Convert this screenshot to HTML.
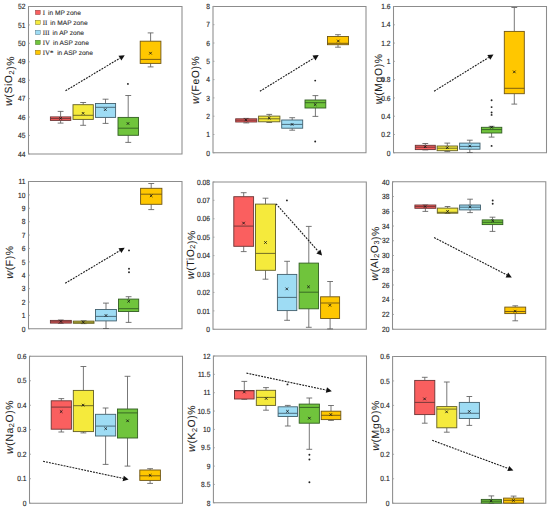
<!DOCTYPE html><html><head><meta charset="utf-8"><style>html,body{margin:0;padding:0;background:#fff;}svg{display:block;font-family:"Liberation Sans",sans-serif;text-rendering:geometricPrecision;}</style></head><body>
<svg width="550" height="510" viewBox="0 0 550 510">
<defs><marker id="ah" markerWidth="6" markerHeight="6" refX="5" refY="3" orient="auto" markerUnits="userSpaceOnUse"><path d="M0,0 L6,3 L0,6 z" fill="#111"/></marker></defs>
<rect width="550" height="510" fill="#fff"/>
<path d="M28.5,6.5H182.0V153.9H28.5Z" fill="none" stroke="#8c8c8c" stroke-width="1.05"/>
<line x1="28.5" y1="153.90" x2="30.0" y2="153.90" stroke="#9a9a9a" stroke-width="0.8"/>
<text transform="translate(25.5,156.60) scale(0.88,1)" font-size="7.6" fill="#262626" stroke="#262626" stroke-width="0.15" text-anchor="end">44</text>
<line x1="28.5" y1="135.47" x2="30.0" y2="135.47" stroke="#9a9a9a" stroke-width="0.8"/>
<text transform="translate(25.5,138.17) scale(0.88,1)" font-size="7.6" fill="#262626" stroke="#262626" stroke-width="0.15" text-anchor="end">45</text>
<line x1="28.5" y1="117.05" x2="30.0" y2="117.05" stroke="#9a9a9a" stroke-width="0.8"/>
<text transform="translate(25.5,119.75) scale(0.88,1)" font-size="7.6" fill="#262626" stroke="#262626" stroke-width="0.15" text-anchor="end">46</text>
<line x1="28.5" y1="98.62" x2="30.0" y2="98.62" stroke="#9a9a9a" stroke-width="0.8"/>
<text transform="translate(25.5,101.33) scale(0.88,1)" font-size="7.6" fill="#262626" stroke="#262626" stroke-width="0.15" text-anchor="end">47</text>
<line x1="28.5" y1="80.20" x2="30.0" y2="80.20" stroke="#9a9a9a" stroke-width="0.8"/>
<text transform="translate(25.5,82.90) scale(0.88,1)" font-size="7.6" fill="#262626" stroke="#262626" stroke-width="0.15" text-anchor="end">48</text>
<line x1="28.5" y1="61.78" x2="30.0" y2="61.78" stroke="#9a9a9a" stroke-width="0.8"/>
<text transform="translate(25.5,64.48) scale(0.88,1)" font-size="7.6" fill="#262626" stroke="#262626" stroke-width="0.15" text-anchor="end">49</text>
<line x1="28.5" y1="43.35" x2="30.0" y2="43.35" stroke="#9a9a9a" stroke-width="0.8"/>
<text transform="translate(25.5,46.05) scale(0.88,1)" font-size="7.6" fill="#262626" stroke="#262626" stroke-width="0.15" text-anchor="end">50</text>
<line x1="28.5" y1="24.93" x2="30.0" y2="24.93" stroke="#9a9a9a" stroke-width="0.8"/>
<text transform="translate(25.5,27.63) scale(0.88,1)" font-size="7.6" fill="#262626" stroke="#262626" stroke-width="0.15" text-anchor="end">51</text>
<line x1="28.5" y1="6.50" x2="30.0" y2="6.50" stroke="#9a9a9a" stroke-width="0.8"/>
<text transform="translate(25.5,9.20) scale(0.88,1)" font-size="7.6" fill="#262626" stroke="#262626" stroke-width="0.15" text-anchor="end">52</text>
<text transform="translate(12.1,81.0) rotate(-90)" text-anchor="middle" font-size="10.4" letter-spacing="0.6" fill="#1e1e1e" stroke="#1e1e1e" stroke-width="0.06"><tspan font-style="italic" font-size="10.8">w</tspan>(SiO<tspan font-size="7.2" dy="1.6">2</tspan><tspan dy="-1.6"></tspan>)%</text>
<line x1="60.6" y1="111.4" x2="60.6" y2="116.9" stroke="#5f5f5f" stroke-width="0.85"/>
<line x1="60.6" y1="120.4" x2="60.6" y2="123.1" stroke="#5f5f5f" stroke-width="0.85"/>
<line x1="57.7" y1="111.4" x2="63.5" y2="111.4" stroke="#5f5f5f" stroke-width="0.85"/>
<line x1="57.7" y1="123.1" x2="63.5" y2="123.1" stroke="#5f5f5f" stroke-width="0.85"/>
<rect x="50.4" y="116.9" width="20.4" height="3.5" fill="#FA5F5F" stroke="#6a3434" stroke-width="0.9"/>
<line x1="50.4" y1="118.6" x2="70.8" y2="118.6" stroke="#6a3434" stroke-width="0.9"/>
<path d="M59.3,117.1L61.9,119.7M59.3,119.7L61.9,117.1" stroke="#111" stroke-width="0.8"/>
<line x1="83.2" y1="102.5" x2="83.2" y2="104.7" stroke="#5f5f5f" stroke-width="0.85"/>
<line x1="83.2" y1="119.4" x2="83.2" y2="125.3" stroke="#5f5f5f" stroke-width="0.85"/>
<line x1="80.2" y1="102.5" x2="86.1" y2="102.5" stroke="#5f5f5f" stroke-width="0.85"/>
<line x1="80.2" y1="125.3" x2="86.1" y2="125.3" stroke="#5f5f5f" stroke-width="0.85"/>
<rect x="73.0" y="104.7" width="20.3" height="14.7" fill="#F5EA3C" stroke="#625d24" stroke-width="0.9"/>
<line x1="73.0" y1="115.3" x2="93.3" y2="115.3" stroke="#625d24" stroke-width="0.9"/>
<path d="M81.8,112.0L84.4,114.6M81.8,114.6L84.4,112.0" stroke="#111" stroke-width="0.8"/>
<line x1="105.5" y1="99.2" x2="105.5" y2="103.5" stroke="#5f5f5f" stroke-width="0.85"/>
<line x1="105.5" y1="117.4" x2="105.5" y2="123.4" stroke="#5f5f5f" stroke-width="0.85"/>
<line x1="102.6" y1="99.2" x2="108.5" y2="99.2" stroke="#5f5f5f" stroke-width="0.85"/>
<line x1="102.6" y1="123.4" x2="108.5" y2="123.4" stroke="#5f5f5f" stroke-width="0.85"/>
<rect x="95.5" y="103.5" width="20.1" height="13.9" fill="#9EDCF4" stroke="#42606e" stroke-width="0.9"/>
<line x1="95.5" y1="107.3" x2="115.6" y2="107.3" stroke="#42606e" stroke-width="0.9"/>
<path d="M104.0,108.3L106.6,110.9M104.0,110.9L106.6,108.3" stroke="#111" stroke-width="0.8"/>
<line x1="128.2" y1="95.5" x2="128.2" y2="117.4" stroke="#5f5f5f" stroke-width="0.85"/>
<line x1="128.2" y1="135.3" x2="128.2" y2="142.4" stroke="#5f5f5f" stroke-width="0.85"/>
<line x1="125.3" y1="95.5" x2="131.2" y2="95.5" stroke="#5f5f5f" stroke-width="0.85"/>
<line x1="125.3" y1="142.4" x2="131.2" y2="142.4" stroke="#5f5f5f" stroke-width="0.85"/>
<rect x="118.0" y="117.4" width="20.5" height="17.9" fill="#70C43C" stroke="#325e22" stroke-width="0.9"/>
<line x1="118.0" y1="128.2" x2="138.5" y2="128.2" stroke="#325e22" stroke-width="0.9"/>
<path d="M126.7,122.2L129.3,124.8M126.7,124.8L129.3,122.2" stroke="#111" stroke-width="0.8"/>
<line x1="150.6" y1="32.9" x2="150.6" y2="41.2" stroke="#5f5f5f" stroke-width="0.85"/>
<line x1="150.6" y1="63.4" x2="150.6" y2="66.9" stroke="#5f5f5f" stroke-width="0.85"/>
<line x1="147.7" y1="32.9" x2="153.5" y2="32.9" stroke="#5f5f5f" stroke-width="0.85"/>
<line x1="147.7" y1="66.9" x2="153.5" y2="66.9" stroke="#5f5f5f" stroke-width="0.85"/>
<rect x="140.2" y="41.2" width="20.7" height="22.2" fill="#FFC700" stroke="#6e5514" stroke-width="0.9"/>
<line x1="140.2" y1="59.4" x2="160.9" y2="59.4" stroke="#6e5514" stroke-width="0.9"/>
<path d="M149.2,51.9L151.8,54.5M149.2,54.5L151.8,51.9" stroke="#111" stroke-width="0.8"/>
<circle cx="127.9" cy="83.9" r="0.95" fill="#222"/>
<line x1="65.5" y1="90.8" x2="120.0" y2="58.1" stroke="#1a1a1a" stroke-width="1.1" stroke-dasharray="1.9,1.1"/>
<path d="M124.7,55.3L121.4,60.5L118.5,55.7z" fill="#111"/>
<rect x="35.4" y="10.2" width="4.8" height="4.4" fill="#FA5F5F" stroke="#6a3434" stroke-width="0.4"/>
<text x="42.7" y="14.7" font-size="6.6" fill="#333" stroke="#333" stroke-width="0.12"><tspan font-family="Liberation Serif" font-size="6.9">I</tspan><tspan dx="1.2"> in MP zone</tspan></text>
<rect x="35.4" y="20.2" width="4.8" height="4.4" fill="#F5EA3C" stroke="#625d24" stroke-width="0.4"/>
<text x="42.7" y="24.7" font-size="6.6" fill="#333" stroke="#333" stroke-width="0.12"><tspan font-family="Liberation Serif" font-size="6.9">II</tspan><tspan dx="1.2"> in MAP zone</tspan></text>
<rect x="35.4" y="30.2" width="4.8" height="4.4" fill="#9EDCF4" stroke="#42606e" stroke-width="0.4"/>
<text x="42.7" y="34.7" font-size="6.6" fill="#333" stroke="#333" stroke-width="0.12"><tspan font-family="Liberation Serif" font-size="6.9">III</tspan><tspan dx="1.2"> in AP zone</tspan></text>
<rect x="35.4" y="40.2" width="4.8" height="4.4" fill="#70C43C" stroke="#325e22" stroke-width="0.4"/>
<text x="42.7" y="44.7" font-size="6.6" fill="#333" stroke="#333" stroke-width="0.12"><tspan font-family="Liberation Serif" font-size="6.9">IV</tspan><tspan dx="1.2"> in ASP zone</tspan></text>
<rect x="35.4" y="50.2" width="4.8" height="4.4" fill="#FFC700" stroke="#6e5514" stroke-width="0.4"/>
<text x="42.7" y="54.7" font-size="6.6" fill="#333" stroke="#333" stroke-width="0.12"><tspan font-family="Liberation Serif" font-size="6.9">IV*</tspan><tspan dx="1.9"> in ASP zone</tspan></text>
<path d="M213.0,6.4H366.0V152.8H213.0Z" fill="none" stroke="#8c8c8c" stroke-width="1.05"/>
<line x1="213.0" y1="152.80" x2="214.5" y2="152.80" stroke="#9a9a9a" stroke-width="0.8"/>
<text transform="translate(210.0,155.50) scale(0.88,1)" font-size="7.6" fill="#262626" stroke="#262626" stroke-width="0.15" text-anchor="end">0</text>
<line x1="213.0" y1="134.50" x2="214.5" y2="134.50" stroke="#9a9a9a" stroke-width="0.8"/>
<text transform="translate(210.0,137.20) scale(0.88,1)" font-size="7.6" fill="#262626" stroke="#262626" stroke-width="0.15" text-anchor="end">1</text>
<line x1="213.0" y1="116.20" x2="214.5" y2="116.20" stroke="#9a9a9a" stroke-width="0.8"/>
<text transform="translate(210.0,118.90) scale(0.88,1)" font-size="7.6" fill="#262626" stroke="#262626" stroke-width="0.15" text-anchor="end">2</text>
<line x1="213.0" y1="97.90" x2="214.5" y2="97.90" stroke="#9a9a9a" stroke-width="0.8"/>
<text transform="translate(210.0,100.60) scale(0.88,1)" font-size="7.6" fill="#262626" stroke="#262626" stroke-width="0.15" text-anchor="end">3</text>
<line x1="213.0" y1="79.60" x2="214.5" y2="79.60" stroke="#9a9a9a" stroke-width="0.8"/>
<text transform="translate(210.0,82.30) scale(0.88,1)" font-size="7.6" fill="#262626" stroke="#262626" stroke-width="0.15" text-anchor="end">4</text>
<line x1="213.0" y1="61.30" x2="214.5" y2="61.30" stroke="#9a9a9a" stroke-width="0.8"/>
<text transform="translate(210.0,64.00) scale(0.88,1)" font-size="7.6" fill="#262626" stroke="#262626" stroke-width="0.15" text-anchor="end">5</text>
<line x1="213.0" y1="43.00" x2="214.5" y2="43.00" stroke="#9a9a9a" stroke-width="0.8"/>
<text transform="translate(210.0,45.70) scale(0.88,1)" font-size="7.6" fill="#262626" stroke="#262626" stroke-width="0.15" text-anchor="end">6</text>
<line x1="213.0" y1="24.70" x2="214.5" y2="24.70" stroke="#9a9a9a" stroke-width="0.8"/>
<text transform="translate(210.0,27.40) scale(0.88,1)" font-size="7.6" fill="#262626" stroke="#262626" stroke-width="0.15" text-anchor="end">7</text>
<line x1="213.0" y1="6.40" x2="214.5" y2="6.40" stroke="#9a9a9a" stroke-width="0.8"/>
<text transform="translate(210.0,9.10) scale(0.88,1)" font-size="7.6" fill="#262626" stroke="#262626" stroke-width="0.15" text-anchor="end">8</text>
<text transform="translate(199.1,79.8) rotate(-90)" text-anchor="middle" font-size="10.4" letter-spacing="0.6" fill="#1e1e1e" stroke="#1e1e1e" stroke-width="0.06"><tspan font-style="italic" font-size="10.8">w</tspan>(FeO)%</text>
<line x1="246.2" y1="118.4" x2="246.2" y2="118.8" stroke="#5f5f5f" stroke-width="0.85"/>
<line x1="246.2" y1="122.0" x2="246.2" y2="122.9" stroke="#5f5f5f" stroke-width="0.85"/>
<line x1="243.3" y1="118.4" x2="249.2" y2="118.4" stroke="#5f5f5f" stroke-width="0.85"/>
<line x1="243.3" y1="122.9" x2="249.2" y2="122.9" stroke="#5f5f5f" stroke-width="0.85"/>
<rect x="235.7" y="118.8" width="21.1" height="3.2" fill="#FA5F5F" stroke="#6a3434" stroke-width="0.9"/>
<line x1="235.7" y1="120.2" x2="256.8" y2="120.2" stroke="#6a3434" stroke-width="0.9"/>
<path d="M244.6,118.6L247.2,121.2M244.6,121.2L247.2,118.6" stroke="#111" stroke-width="0.8"/>
<line x1="269.2" y1="114.4" x2="269.2" y2="116.1" stroke="#5f5f5f" stroke-width="0.85"/>
<line x1="269.2" y1="121.8" x2="269.2" y2="122.5" stroke="#5f5f5f" stroke-width="0.85"/>
<line x1="266.4" y1="114.4" x2="272.1" y2="114.4" stroke="#5f5f5f" stroke-width="0.85"/>
<line x1="266.4" y1="122.5" x2="272.1" y2="122.5" stroke="#5f5f5f" stroke-width="0.85"/>
<rect x="258.6" y="116.1" width="21.3" height="5.7" fill="#F5EA3C" stroke="#625d24" stroke-width="0.9"/>
<line x1="258.6" y1="118.8" x2="279.9" y2="118.8" stroke="#625d24" stroke-width="0.9"/>
<path d="M267.9,116.8L270.5,119.4M267.9,119.4L270.5,116.8" stroke="#111" stroke-width="0.8"/>
<line x1="292.2" y1="117.7" x2="292.2" y2="120.0" stroke="#5f5f5f" stroke-width="0.85"/>
<line x1="292.2" y1="128.2" x2="292.2" y2="130.2" stroke="#5f5f5f" stroke-width="0.85"/>
<line x1="289.3" y1="117.7" x2="295.1" y2="117.7" stroke="#5f5f5f" stroke-width="0.85"/>
<line x1="289.3" y1="130.2" x2="295.1" y2="130.2" stroke="#5f5f5f" stroke-width="0.85"/>
<rect x="281.7" y="120.0" width="21.0" height="8.2" fill="#9EDCF4" stroke="#42606e" stroke-width="0.9"/>
<line x1="281.7" y1="124.4" x2="302.7" y2="124.4" stroke="#42606e" stroke-width="0.9"/>
<path d="M290.8,123.1L293.4,125.7M290.8,125.7L293.4,123.1" stroke="#111" stroke-width="0.8"/>
<line x1="315.4" y1="95.6" x2="315.4" y2="100.0" stroke="#5f5f5f" stroke-width="0.85"/>
<line x1="315.4" y1="108.0" x2="315.4" y2="116.4" stroke="#5f5f5f" stroke-width="0.85"/>
<line x1="312.5" y1="95.6" x2="318.3" y2="95.6" stroke="#5f5f5f" stroke-width="0.85"/>
<line x1="312.5" y1="116.4" x2="318.3" y2="116.4" stroke="#5f5f5f" stroke-width="0.85"/>
<rect x="305.0" y="100.0" width="20.8" height="8.0" fill="#70C43C" stroke="#325e22" stroke-width="0.9"/>
<line x1="305.0" y1="102.7" x2="325.8" y2="102.7" stroke="#325e22" stroke-width="0.9"/>
<path d="M313.9,103.3L316.5,105.9M313.9,105.9L316.5,103.3" stroke="#111" stroke-width="0.8"/>
<line x1="338.0" y1="34.7" x2="338.0" y2="36.5" stroke="#5f5f5f" stroke-width="0.85"/>
<line x1="338.0" y1="44.7" x2="338.0" y2="47.2" stroke="#5f5f5f" stroke-width="0.85"/>
<line x1="335.1" y1="34.7" x2="340.9" y2="34.7" stroke="#5f5f5f" stroke-width="0.85"/>
<line x1="335.1" y1="47.2" x2="340.9" y2="47.2" stroke="#5f5f5f" stroke-width="0.85"/>
<rect x="327.5" y="36.5" width="21.0" height="8.2" fill="#FFC700" stroke="#6e5514" stroke-width="0.9"/>
<line x1="327.5" y1="43.3" x2="348.5" y2="43.3" stroke="#6e5514" stroke-width="0.9"/>
<path d="M337.0,39.7L339.6,42.3M337.0,42.3L339.6,39.7" stroke="#111" stroke-width="0.8"/>
<circle cx="315.2" cy="80.6" r="0.95" fill="#222"/>
<circle cx="315.2" cy="141.5" r="0.95" fill="#222"/>
<line x1="259.9" y1="91.3" x2="314.0" y2="58.0" stroke="#1a1a1a" stroke-width="1.1" stroke-dasharray="1.9,1.1"/>
<path d="M318.7,55.1L315.5,60.4L312.5,55.6z" fill="#111"/>
<path d="M393.5,6.5H546.5V152.8H393.5Z" fill="none" stroke="#8c8c8c" stroke-width="1.05"/>
<line x1="393.5" y1="152.80" x2="395.0" y2="152.80" stroke="#9a9a9a" stroke-width="0.8"/>
<text transform="translate(390.5,155.50) scale(0.88,1)" font-size="7.6" fill="#262626" stroke="#262626" stroke-width="0.15" text-anchor="end">0</text>
<line x1="393.5" y1="134.51" x2="395.0" y2="134.51" stroke="#9a9a9a" stroke-width="0.8"/>
<text transform="translate(390.5,137.21) scale(0.88,1)" font-size="7.6" fill="#262626" stroke="#262626" stroke-width="0.15" text-anchor="end">0.2</text>
<line x1="393.5" y1="116.23" x2="395.0" y2="116.23" stroke="#9a9a9a" stroke-width="0.8"/>
<text transform="translate(390.5,118.93) scale(0.88,1)" font-size="7.6" fill="#262626" stroke="#262626" stroke-width="0.15" text-anchor="end">0.4</text>
<line x1="393.5" y1="97.94" x2="395.0" y2="97.94" stroke="#9a9a9a" stroke-width="0.8"/>
<text transform="translate(390.5,100.64) scale(0.88,1)" font-size="7.6" fill="#262626" stroke="#262626" stroke-width="0.15" text-anchor="end">0.6</text>
<line x1="393.5" y1="79.65" x2="395.0" y2="79.65" stroke="#9a9a9a" stroke-width="0.8"/>
<text transform="translate(390.5,82.35) scale(0.88,1)" font-size="7.6" fill="#262626" stroke="#262626" stroke-width="0.15" text-anchor="end">0.8</text>
<line x1="393.5" y1="61.36" x2="395.0" y2="61.36" stroke="#9a9a9a" stroke-width="0.8"/>
<text transform="translate(390.5,64.06) scale(0.88,1)" font-size="7.6" fill="#262626" stroke="#262626" stroke-width="0.15" text-anchor="end">1</text>
<line x1="393.5" y1="43.07" x2="395.0" y2="43.07" stroke="#9a9a9a" stroke-width="0.8"/>
<text transform="translate(390.5,45.77) scale(0.88,1)" font-size="7.6" fill="#262626" stroke="#262626" stroke-width="0.15" text-anchor="end">1.2</text>
<line x1="393.5" y1="24.79" x2="395.0" y2="24.79" stroke="#9a9a9a" stroke-width="0.8"/>
<text transform="translate(390.5,27.49) scale(0.88,1)" font-size="7.6" fill="#262626" stroke="#262626" stroke-width="0.15" text-anchor="end">1.4</text>
<line x1="393.5" y1="6.50" x2="395.0" y2="6.50" stroke="#9a9a9a" stroke-width="0.8"/>
<text transform="translate(390.5,9.20) scale(0.88,1)" font-size="7.6" fill="#262626" stroke="#262626" stroke-width="0.15" text-anchor="end">1.6</text>
<text transform="translate(382.3,78.8) rotate(-90)" text-anchor="middle" font-size="10.4" letter-spacing="0.6" fill="#1e1e1e" stroke="#1e1e1e" stroke-width="0.06"><tspan font-style="italic" font-size="10.8">w</tspan>(MgO)%</text>
<line x1="425.3" y1="143.5" x2="425.3" y2="145.3" stroke="#5f5f5f" stroke-width="0.85"/>
<line x1="425.3" y1="149.6" x2="425.3" y2="149.9" stroke="#5f5f5f" stroke-width="0.85"/>
<line x1="422.4" y1="143.5" x2="428.2" y2="143.5" stroke="#5f5f5f" stroke-width="0.85"/>
<line x1="422.4" y1="149.9" x2="428.2" y2="149.9" stroke="#5f5f5f" stroke-width="0.85"/>
<rect x="415.3" y="145.3" width="20.0" height="4.3" fill="#FA5F5F" stroke="#6a3434" stroke-width="0.9"/>
<line x1="415.3" y1="147.2" x2="435.3" y2="147.2" stroke="#6a3434" stroke-width="0.9"/>
<path d="M423.9,145.4L426.5,148.0M423.9,148.0L426.5,145.4" stroke="#111" stroke-width="0.8"/>
<line x1="447.3" y1="143.1" x2="447.3" y2="146.0" stroke="#5f5f5f" stroke-width="0.85"/>
<line x1="447.3" y1="150.7" x2="447.3" y2="151.4" stroke="#5f5f5f" stroke-width="0.85"/>
<line x1="444.4" y1="143.1" x2="450.2" y2="143.1" stroke="#5f5f5f" stroke-width="0.85"/>
<line x1="444.4" y1="151.4" x2="450.2" y2="151.4" stroke="#5f5f5f" stroke-width="0.85"/>
<rect x="437.1" y="146.0" width="20.4" height="4.7" fill="#F5EA3C" stroke="#625d24" stroke-width="0.9"/>
<line x1="437.1" y1="148.2" x2="457.5" y2="148.2" stroke="#625d24" stroke-width="0.9"/>
<path d="M446.0,146.4L448.6,149.0M446.0,149.0L448.6,146.4" stroke="#111" stroke-width="0.8"/>
<line x1="469.8" y1="140.2" x2="469.8" y2="143.1" stroke="#5f5f5f" stroke-width="0.85"/>
<line x1="469.8" y1="149.2" x2="469.8" y2="152.5" stroke="#5f5f5f" stroke-width="0.85"/>
<line x1="466.9" y1="140.2" x2="472.7" y2="140.2" stroke="#5f5f5f" stroke-width="0.85"/>
<line x1="466.9" y1="152.5" x2="472.7" y2="152.5" stroke="#5f5f5f" stroke-width="0.85"/>
<rect x="459.6" y="143.1" width="20.4" height="6.1" fill="#9EDCF4" stroke="#42606e" stroke-width="0.9"/>
<line x1="459.6" y1="146.4" x2="480.0" y2="146.4" stroke="#42606e" stroke-width="0.9"/>
<path d="M468.5,144.7L471.1,147.3M468.5,147.3L471.1,144.7" stroke="#111" stroke-width="0.8"/>
<line x1="491.6" y1="126.3" x2="491.6" y2="127.3" stroke="#5f5f5f" stroke-width="0.85"/>
<line x1="491.6" y1="133.0" x2="491.6" y2="137.1" stroke="#5f5f5f" stroke-width="0.85"/>
<line x1="488.7" y1="126.3" x2="494.5" y2="126.3" stroke="#5f5f5f" stroke-width="0.85"/>
<line x1="488.7" y1="137.1" x2="494.5" y2="137.1" stroke="#5f5f5f" stroke-width="0.85"/>
<rect x="481.4" y="127.3" width="20.4" height="5.7" fill="#70C43C" stroke="#325e22" stroke-width="0.9"/>
<line x1="481.4" y1="129.6" x2="501.8" y2="129.6" stroke="#325e22" stroke-width="0.9"/>
<path d="M490.3,126.0L492.9,128.6M490.3,128.6L492.9,126.0" stroke="#111" stroke-width="0.8"/>
<line x1="514.3" y1="7.5" x2="514.3" y2="31.4" stroke="#5f5f5f" stroke-width="0.85"/>
<line x1="514.3" y1="93.7" x2="514.3" y2="104.1" stroke="#5f5f5f" stroke-width="0.85"/>
<line x1="511.4" y1="7.5" x2="517.2" y2="7.5" stroke="#5f5f5f" stroke-width="0.85"/>
<line x1="511.4" y1="104.1" x2="517.2" y2="104.1" stroke="#5f5f5f" stroke-width="0.85"/>
<rect x="504.3" y="31.4" width="20.0" height="62.3" fill="#FFC700" stroke="#6e5514" stroke-width="0.9"/>
<line x1="504.3" y1="88.3" x2="524.3" y2="88.3" stroke="#6e5514" stroke-width="0.9"/>
<path d="M513.0,70.6L515.6,73.2M513.0,73.2L515.6,70.6" stroke="#111" stroke-width="0.8"/>
<circle cx="491.6" cy="100.2" r="0.95" fill="#222"/>
<circle cx="491.6" cy="107.1" r="0.95" fill="#222"/>
<circle cx="491.6" cy="112.5" r="0.95" fill="#222"/>
<circle cx="491.6" cy="114.9" r="0.95" fill="#222"/>
<circle cx="491.6" cy="145.9" r="0.95" fill="#222"/>
<line x1="434.1" y1="91.2" x2="488.8" y2="57.4" stroke="#1a1a1a" stroke-width="1.1" stroke-dasharray="1.9,1.1"/>
<path d="M493.5,54.5L490.3,59.8L487.3,55.0z" fill="#111"/>
<path d="M28.5,181.5H182.0V328.8H28.5Z" fill="none" stroke="#8c8c8c" stroke-width="1.05"/>
<line x1="28.5" y1="328.80" x2="30.0" y2="328.80" stroke="#9a9a9a" stroke-width="0.8"/>
<text transform="translate(25.5,331.50) scale(0.88,1)" font-size="7.6" fill="#262626" stroke="#262626" stroke-width="0.15" text-anchor="end">0</text>
<line x1="28.5" y1="315.41" x2="30.0" y2="315.41" stroke="#9a9a9a" stroke-width="0.8"/>
<text transform="translate(25.5,318.11) scale(0.88,1)" font-size="7.6" fill="#262626" stroke="#262626" stroke-width="0.15" text-anchor="end">1</text>
<line x1="28.5" y1="302.02" x2="30.0" y2="302.02" stroke="#9a9a9a" stroke-width="0.8"/>
<text transform="translate(25.5,304.72) scale(0.88,1)" font-size="7.6" fill="#262626" stroke="#262626" stroke-width="0.15" text-anchor="end">2</text>
<line x1="28.5" y1="288.63" x2="30.0" y2="288.63" stroke="#9a9a9a" stroke-width="0.8"/>
<text transform="translate(25.5,291.33) scale(0.88,1)" font-size="7.6" fill="#262626" stroke="#262626" stroke-width="0.15" text-anchor="end">3</text>
<line x1="28.5" y1="275.24" x2="30.0" y2="275.24" stroke="#9a9a9a" stroke-width="0.8"/>
<text transform="translate(25.5,277.94) scale(0.88,1)" font-size="7.6" fill="#262626" stroke="#262626" stroke-width="0.15" text-anchor="end">4</text>
<line x1="28.5" y1="261.85" x2="30.0" y2="261.85" stroke="#9a9a9a" stroke-width="0.8"/>
<text transform="translate(25.5,264.55) scale(0.88,1)" font-size="7.6" fill="#262626" stroke="#262626" stroke-width="0.15" text-anchor="end">5</text>
<line x1="28.5" y1="248.45" x2="30.0" y2="248.45" stroke="#9a9a9a" stroke-width="0.8"/>
<text transform="translate(25.5,251.15) scale(0.88,1)" font-size="7.6" fill="#262626" stroke="#262626" stroke-width="0.15" text-anchor="end">6</text>
<line x1="28.5" y1="235.06" x2="30.0" y2="235.06" stroke="#9a9a9a" stroke-width="0.8"/>
<text transform="translate(25.5,237.76) scale(0.88,1)" font-size="7.6" fill="#262626" stroke="#262626" stroke-width="0.15" text-anchor="end">7</text>
<line x1="28.5" y1="221.67" x2="30.0" y2="221.67" stroke="#9a9a9a" stroke-width="0.8"/>
<text transform="translate(25.5,224.37) scale(0.88,1)" font-size="7.6" fill="#262626" stroke="#262626" stroke-width="0.15" text-anchor="end">8</text>
<line x1="28.5" y1="208.28" x2="30.0" y2="208.28" stroke="#9a9a9a" stroke-width="0.8"/>
<text transform="translate(25.5,210.98) scale(0.88,1)" font-size="7.6" fill="#262626" stroke="#262626" stroke-width="0.15" text-anchor="end">9</text>
<line x1="28.5" y1="194.89" x2="30.0" y2="194.89" stroke="#9a9a9a" stroke-width="0.8"/>
<text transform="translate(25.5,197.59) scale(0.88,1)" font-size="7.6" fill="#262626" stroke="#262626" stroke-width="0.15" text-anchor="end">10</text>
<line x1="28.5" y1="181.50" x2="30.0" y2="181.50" stroke="#9a9a9a" stroke-width="0.8"/>
<text transform="translate(25.5,184.20) scale(0.88,1)" font-size="7.6" fill="#262626" stroke="#262626" stroke-width="0.15" text-anchor="end">11</text>
<text transform="translate(12.9,262.0) rotate(-90)" text-anchor="middle" font-size="10.4" letter-spacing="0.6" fill="#1e1e1e" stroke="#1e1e1e" stroke-width="0.06"><tspan font-style="italic" font-size="10.8">w</tspan>(F)%</text>
<line x1="60.8" y1="320.0" x2="60.8" y2="320.4" stroke="#5f5f5f" stroke-width="0.85"/>
<line x1="60.8" y1="323.1" x2="60.8" y2="323.4" stroke="#5f5f5f" stroke-width="0.85"/>
<line x1="57.9" y1="320.0" x2="63.7" y2="320.0" stroke="#5f5f5f" stroke-width="0.85"/>
<line x1="57.9" y1="323.4" x2="63.7" y2="323.4" stroke="#5f5f5f" stroke-width="0.85"/>
<rect x="50.4" y="320.4" width="20.9" height="2.7" fill="#FA5F5F" stroke="#6a3434" stroke-width="0.9"/>
<line x1="50.4" y1="321.8" x2="71.3" y2="321.8" stroke="#6a3434" stroke-width="0.9"/>
<path d="M59.6,320.2L62.2,322.8M59.6,322.8L62.2,320.2" stroke="#111" stroke-width="0.8"/>
<line x1="83.7" y1="320.8" x2="83.7" y2="321.1" stroke="#5f5f5f" stroke-width="0.85"/>
<line x1="83.7" y1="323.3" x2="83.7" y2="323.6" stroke="#5f5f5f" stroke-width="0.85"/>
<line x1="80.8" y1="320.8" x2="86.6" y2="320.8" stroke="#5f5f5f" stroke-width="0.85"/>
<line x1="80.8" y1="323.6" x2="86.6" y2="323.6" stroke="#5f5f5f" stroke-width="0.85"/>
<rect x="73.3" y="321.1" width="20.7" height="2.2" fill="#F5EA3C" stroke="#625d24" stroke-width="0.9"/>
<line x1="73.3" y1="322.2" x2="94.0" y2="322.2" stroke="#625d24" stroke-width="0.9"/>
<path d="M82.0,320.9L84.6,323.5M82.0,323.5L84.6,320.9" stroke="#111" stroke-width="0.8"/>
<line x1="106.0" y1="303.1" x2="106.0" y2="309.5" stroke="#5f5f5f" stroke-width="0.85"/>
<line x1="106.0" y1="320.9" x2="106.0" y2="328.5" stroke="#5f5f5f" stroke-width="0.85"/>
<line x1="103.0" y1="303.1" x2="108.9" y2="303.1" stroke="#5f5f5f" stroke-width="0.85"/>
<line x1="103.0" y1="328.5" x2="108.9" y2="328.5" stroke="#5f5f5f" stroke-width="0.85"/>
<rect x="95.5" y="309.5" width="20.9" height="11.4" fill="#9EDCF4" stroke="#42606e" stroke-width="0.9"/>
<line x1="95.5" y1="316.4" x2="116.4" y2="316.4" stroke="#42606e" stroke-width="0.9"/>
<path d="M104.7,314.2L107.3,316.8M104.7,316.8L107.3,314.2" stroke="#111" stroke-width="0.8"/>
<line x1="128.6" y1="296.7" x2="128.6" y2="299.1" stroke="#5f5f5f" stroke-width="0.85"/>
<line x1="128.6" y1="311.5" x2="128.6" y2="322.4" stroke="#5f5f5f" stroke-width="0.85"/>
<line x1="125.7" y1="296.7" x2="131.5" y2="296.7" stroke="#5f5f5f" stroke-width="0.85"/>
<line x1="125.7" y1="322.4" x2="131.5" y2="322.4" stroke="#5f5f5f" stroke-width="0.85"/>
<rect x="118.5" y="299.1" width="20.2" height="12.4" fill="#70C43C" stroke="#325e22" stroke-width="0.9"/>
<line x1="118.5" y1="308.7" x2="138.7" y2="308.7" stroke="#325e22" stroke-width="0.9"/>
<path d="M127.4,300.0L130.0,302.6M127.4,302.6L130.0,300.0" stroke="#111" stroke-width="0.8"/>
<line x1="151.2" y1="183.5" x2="151.2" y2="188.3" stroke="#5f5f5f" stroke-width="0.85"/>
<line x1="151.2" y1="204.3" x2="151.2" y2="209.6" stroke="#5f5f5f" stroke-width="0.85"/>
<line x1="148.3" y1="183.5" x2="154.2" y2="183.5" stroke="#5f5f5f" stroke-width="0.85"/>
<line x1="148.3" y1="209.6" x2="154.2" y2="209.6" stroke="#5f5f5f" stroke-width="0.85"/>
<rect x="140.6" y="188.3" width="21.3" height="16.0" fill="#FFC700" stroke="#6e5514" stroke-width="0.9"/>
<line x1="140.6" y1="194.2" x2="161.9" y2="194.2" stroke="#6e5514" stroke-width="0.9"/>
<path d="M149.9,194.5L152.5,197.1M149.9,197.1L152.5,194.5" stroke="#111" stroke-width="0.8"/>
<circle cx="129" cy="250.4" r="0.95" fill="#222"/>
<circle cx="129" cy="268.7" r="0.95" fill="#222"/>
<circle cx="129" cy="272.2" r="0.95" fill="#222"/>
<line x1="65.2" y1="283.3" x2="120.0" y2="250.6" stroke="#1a1a1a" stroke-width="1.1" stroke-dasharray="1.9,1.1"/>
<path d="M124.7,247.8L121.4,253.0L118.5,248.2z" fill="#111"/>
<path d="M213.0,181.9H366.3V329.3H213.0Z" fill="none" stroke="#8c8c8c" stroke-width="1.05"/>
<line x1="213.0" y1="329.30" x2="214.5" y2="329.30" stroke="#9a9a9a" stroke-width="0.8"/>
<text transform="translate(210.0,332.00) scale(0.88,1)" font-size="7.6" fill="#262626" stroke="#262626" stroke-width="0.15" text-anchor="end">0</text>
<line x1="213.0" y1="310.88" x2="214.5" y2="310.88" stroke="#9a9a9a" stroke-width="0.8"/>
<text transform="translate(210.0,313.57) scale(0.88,1)" font-size="7.6" fill="#262626" stroke="#262626" stroke-width="0.15" text-anchor="end">0.01</text>
<line x1="213.0" y1="292.45" x2="214.5" y2="292.45" stroke="#9a9a9a" stroke-width="0.8"/>
<text transform="translate(210.0,295.15) scale(0.88,1)" font-size="7.6" fill="#262626" stroke="#262626" stroke-width="0.15" text-anchor="end">0.02</text>
<line x1="213.0" y1="274.02" x2="214.5" y2="274.02" stroke="#9a9a9a" stroke-width="0.8"/>
<text transform="translate(210.0,276.72) scale(0.88,1)" font-size="7.6" fill="#262626" stroke="#262626" stroke-width="0.15" text-anchor="end">0.03</text>
<line x1="213.0" y1="255.60" x2="214.5" y2="255.60" stroke="#9a9a9a" stroke-width="0.8"/>
<text transform="translate(210.0,258.30) scale(0.88,1)" font-size="7.6" fill="#262626" stroke="#262626" stroke-width="0.15" text-anchor="end">0.04</text>
<line x1="213.0" y1="237.18" x2="214.5" y2="237.18" stroke="#9a9a9a" stroke-width="0.8"/>
<text transform="translate(210.0,239.88) scale(0.88,1)" font-size="7.6" fill="#262626" stroke="#262626" stroke-width="0.15" text-anchor="end">0.05</text>
<line x1="213.0" y1="218.75" x2="214.5" y2="218.75" stroke="#9a9a9a" stroke-width="0.8"/>
<text transform="translate(210.0,221.45) scale(0.88,1)" font-size="7.6" fill="#262626" stroke="#262626" stroke-width="0.15" text-anchor="end">0.06</text>
<line x1="213.0" y1="200.32" x2="214.5" y2="200.32" stroke="#9a9a9a" stroke-width="0.8"/>
<text transform="translate(210.0,203.02) scale(0.88,1)" font-size="7.6" fill="#262626" stroke="#262626" stroke-width="0.15" text-anchor="end">0.07</text>
<line x1="213.0" y1="181.90" x2="214.5" y2="181.90" stroke="#9a9a9a" stroke-width="0.8"/>
<text transform="translate(210.0,184.60) scale(0.88,1)" font-size="7.6" fill="#262626" stroke="#262626" stroke-width="0.15" text-anchor="end">0.08</text>
<text transform="translate(193.8,254.7) rotate(-90)" text-anchor="middle" font-size="10.4" letter-spacing="0.6" fill="#1e1e1e" stroke="#1e1e1e" stroke-width="0.06"><tspan font-style="italic" font-size="10.8">w</tspan>(TiO<tspan font-size="7.2" dy="1.6">2</tspan><tspan dy="-1.6"></tspan>)%</text>
<line x1="243.7" y1="192.7" x2="243.7" y2="196.7" stroke="#5f5f5f" stroke-width="0.85"/>
<line x1="243.7" y1="246.3" x2="243.7" y2="251.6" stroke="#5f5f5f" stroke-width="0.85"/>
<line x1="240.8" y1="192.7" x2="246.6" y2="192.7" stroke="#5f5f5f" stroke-width="0.85"/>
<line x1="240.8" y1="251.6" x2="246.6" y2="251.6" stroke="#5f5f5f" stroke-width="0.85"/>
<rect x="233.8" y="196.7" width="19.8" height="49.6" fill="#FA5F5F" stroke="#6a3434" stroke-width="0.9"/>
<line x1="233.8" y1="226.1" x2="253.6" y2="226.1" stroke="#6a3434" stroke-width="0.9"/>
<path d="M242.3,221.8L244.9,224.4M242.3,224.4L244.9,221.8" stroke="#111" stroke-width="0.8"/>
<line x1="265.5" y1="198.2" x2="265.5" y2="204.1" stroke="#5f5f5f" stroke-width="0.85"/>
<line x1="265.5" y1="270.3" x2="265.5" y2="279.2" stroke="#5f5f5f" stroke-width="0.85"/>
<line x1="262.6" y1="198.2" x2="268.4" y2="198.2" stroke="#5f5f5f" stroke-width="0.85"/>
<line x1="262.6" y1="279.2" x2="268.4" y2="279.2" stroke="#5f5f5f" stroke-width="0.85"/>
<rect x="255.5" y="204.1" width="20.0" height="66.2" fill="#F5EA3C" stroke="#625d24" stroke-width="0.9"/>
<line x1="255.5" y1="253.4" x2="275.5" y2="253.4" stroke="#625d24" stroke-width="0.9"/>
<path d="M264.2,241.2L266.8,243.8M264.2,243.8L266.8,241.2" stroke="#111" stroke-width="0.8"/>
<line x1="287.1" y1="261.3" x2="287.1" y2="274.4" stroke="#5f5f5f" stroke-width="0.85"/>
<line x1="287.1" y1="310.6" x2="287.1" y2="320.3" stroke="#5f5f5f" stroke-width="0.85"/>
<line x1="284.2" y1="261.3" x2="290.0" y2="261.3" stroke="#5f5f5f" stroke-width="0.85"/>
<line x1="284.2" y1="320.3" x2="290.0" y2="320.3" stroke="#5f5f5f" stroke-width="0.85"/>
<rect x="277.4" y="274.4" width="19.4" height="36.2" fill="#9EDCF4" stroke="#42606e" stroke-width="0.9"/>
<line x1="277.4" y1="297.4" x2="296.8" y2="297.4" stroke="#42606e" stroke-width="0.9"/>
<path d="M285.5,287.6L288.1,290.2M285.5,290.2L288.1,287.6" stroke="#111" stroke-width="0.8"/>
<line x1="308.8" y1="226.4" x2="308.8" y2="263.1" stroke="#5f5f5f" stroke-width="0.85"/>
<line x1="308.8" y1="308.8" x2="308.8" y2="327.3" stroke="#5f5f5f" stroke-width="0.85"/>
<line x1="305.9" y1="226.4" x2="311.7" y2="226.4" stroke="#5f5f5f" stroke-width="0.85"/>
<line x1="305.9" y1="327.3" x2="311.7" y2="327.3" stroke="#5f5f5f" stroke-width="0.85"/>
<rect x="299.1" y="263.1" width="19.4" height="45.7" fill="#70C43C" stroke="#325e22" stroke-width="0.9"/>
<line x1="299.1" y1="292.2" x2="318.5" y2="292.2" stroke="#325e22" stroke-width="0.9"/>
<path d="M307.2,285.5L309.8,288.1M307.2,288.1L309.8,285.5" stroke="#111" stroke-width="0.8"/>
<line x1="330.1" y1="281.5" x2="330.1" y2="296.8" stroke="#5f5f5f" stroke-width="0.85"/>
<line x1="330.1" y1="318.5" x2="330.1" y2="328.9" stroke="#5f5f5f" stroke-width="0.85"/>
<line x1="327.2" y1="281.5" x2="333.0" y2="281.5" stroke="#5f5f5f" stroke-width="0.85"/>
<line x1="327.2" y1="328.9" x2="333.0" y2="328.9" stroke="#5f5f5f" stroke-width="0.85"/>
<rect x="320.6" y="296.8" width="19.0" height="21.7" fill="#FFC700" stroke="#6e5514" stroke-width="0.9"/>
<line x1="320.6" y1="303.0" x2="339.6" y2="303.0" stroke="#6e5514" stroke-width="0.9"/>
<path d="M328.6,304.0L331.2,306.6M328.6,306.6L331.2,304.0" stroke="#111" stroke-width="0.8"/>
<circle cx="286.9" cy="200.4" r="0.95" fill="#222"/>
<line x1="276.0" y1="203.8" x2="318.4" y2="251.5" stroke="#1a1a1a" stroke-width="1.1" stroke-dasharray="1.9,1.1"/>
<path d="M322.1,255.6L316.4,253.4L320.5,249.6z" fill="#111"/>
<path d="M392.5,181.8H545.8V329.2H392.5Z" fill="none" stroke="#8c8c8c" stroke-width="1.05"/>
<line x1="392.5" y1="329.20" x2="394.0" y2="329.20" stroke="#9a9a9a" stroke-width="0.8"/>
<text transform="translate(389.5,331.90) scale(0.88,1)" font-size="7.6" fill="#262626" stroke="#262626" stroke-width="0.15" text-anchor="end">20</text>
<line x1="392.5" y1="314.46" x2="394.0" y2="314.46" stroke="#9a9a9a" stroke-width="0.8"/>
<text transform="translate(389.5,317.16) scale(0.88,1)" font-size="7.6" fill="#262626" stroke="#262626" stroke-width="0.15" text-anchor="end">22</text>
<line x1="392.5" y1="299.72" x2="394.0" y2="299.72" stroke="#9a9a9a" stroke-width="0.8"/>
<text transform="translate(389.5,302.42) scale(0.88,1)" font-size="7.6" fill="#262626" stroke="#262626" stroke-width="0.15" text-anchor="end">24</text>
<line x1="392.5" y1="284.98" x2="394.0" y2="284.98" stroke="#9a9a9a" stroke-width="0.8"/>
<text transform="translate(389.5,287.68) scale(0.88,1)" font-size="7.6" fill="#262626" stroke="#262626" stroke-width="0.15" text-anchor="end">26</text>
<line x1="392.5" y1="270.24" x2="394.0" y2="270.24" stroke="#9a9a9a" stroke-width="0.8"/>
<text transform="translate(389.5,272.94) scale(0.88,1)" font-size="7.6" fill="#262626" stroke="#262626" stroke-width="0.15" text-anchor="end">28</text>
<line x1="392.5" y1="255.50" x2="394.0" y2="255.50" stroke="#9a9a9a" stroke-width="0.8"/>
<text transform="translate(389.5,258.20) scale(0.88,1)" font-size="7.6" fill="#262626" stroke="#262626" stroke-width="0.15" text-anchor="end">30</text>
<line x1="392.5" y1="240.76" x2="394.0" y2="240.76" stroke="#9a9a9a" stroke-width="0.8"/>
<text transform="translate(389.5,243.46) scale(0.88,1)" font-size="7.6" fill="#262626" stroke="#262626" stroke-width="0.15" text-anchor="end">32</text>
<line x1="392.5" y1="226.02" x2="394.0" y2="226.02" stroke="#9a9a9a" stroke-width="0.8"/>
<text transform="translate(389.5,228.72) scale(0.88,1)" font-size="7.6" fill="#262626" stroke="#262626" stroke-width="0.15" text-anchor="end">34</text>
<line x1="392.5" y1="211.28" x2="394.0" y2="211.28" stroke="#9a9a9a" stroke-width="0.8"/>
<text transform="translate(389.5,213.98) scale(0.88,1)" font-size="7.6" fill="#262626" stroke="#262626" stroke-width="0.15" text-anchor="end">36</text>
<line x1="392.5" y1="196.54" x2="394.0" y2="196.54" stroke="#9a9a9a" stroke-width="0.8"/>
<text transform="translate(389.5,199.24) scale(0.88,1)" font-size="7.6" fill="#262626" stroke="#262626" stroke-width="0.15" text-anchor="end">38</text>
<line x1="392.5" y1="181.80" x2="394.0" y2="181.80" stroke="#9a9a9a" stroke-width="0.8"/>
<text transform="translate(389.5,184.50) scale(0.88,1)" font-size="7.6" fill="#262626" stroke="#262626" stroke-width="0.15" text-anchor="end">40</text>
<text transform="translate(377.5,253.4) rotate(-90)" text-anchor="middle" font-size="10.4" letter-spacing="0.6" fill="#1e1e1e" stroke="#1e1e1e" stroke-width="0.06"><tspan font-style="italic" font-size="10.8">w</tspan>(Al<tspan font-size="7.2" dy="1.6">2</tspan><tspan dy="-1.6">O</tspan><tspan font-size="7.2" dy="1.6">3</tspan><tspan dy="-1.6"></tspan>)%</text>
<line x1="425.4" y1="205.0" x2="425.4" y2="205.0" stroke="#5f5f5f" stroke-width="0.85"/>
<line x1="425.4" y1="208.3" x2="425.4" y2="211.4" stroke="#5f5f5f" stroke-width="0.85"/>
<line x1="422.5" y1="205.0" x2="428.2" y2="205.0" stroke="#5f5f5f" stroke-width="0.85"/>
<line x1="422.5" y1="211.4" x2="428.2" y2="211.4" stroke="#5f5f5f" stroke-width="0.85"/>
<rect x="414.9" y="205.0" width="20.9" height="3.3" fill="#FA5F5F" stroke="#6a3434" stroke-width="0.9"/>
<line x1="414.9" y1="206.6" x2="435.8" y2="206.6" stroke="#6a3434" stroke-width="0.9"/>
<path d="M423.8,205.2L426.4,207.8M423.8,207.8L426.4,205.2" stroke="#111" stroke-width="0.8"/>
<line x1="447.6" y1="206.5" x2="447.6" y2="208.1" stroke="#5f5f5f" stroke-width="0.85"/>
<line x1="447.6" y1="213.2" x2="447.6" y2="213.5" stroke="#5f5f5f" stroke-width="0.85"/>
<line x1="444.7" y1="206.5" x2="450.4" y2="206.5" stroke="#5f5f5f" stroke-width="0.85"/>
<line x1="444.7" y1="213.5" x2="450.4" y2="213.5" stroke="#5f5f5f" stroke-width="0.85"/>
<rect x="437.3" y="208.1" width="20.5" height="5.1" fill="#F5EA3C" stroke="#625d24" stroke-width="0.9"/>
<line x1="437.3" y1="212.3" x2="457.8" y2="212.3" stroke="#625d24" stroke-width="0.9"/>
<path d="M446.3,210.1L448.9,212.7M446.3,212.7L448.9,210.1" stroke="#111" stroke-width="0.8"/>
<line x1="470.1" y1="199.2" x2="470.1" y2="205.0" stroke="#5f5f5f" stroke-width="0.85"/>
<line x1="470.1" y1="209.9" x2="470.1" y2="212.6" stroke="#5f5f5f" stroke-width="0.85"/>
<line x1="467.2" y1="199.2" x2="472.9" y2="199.2" stroke="#5f5f5f" stroke-width="0.85"/>
<line x1="467.2" y1="212.6" x2="472.9" y2="212.6" stroke="#5f5f5f" stroke-width="0.85"/>
<rect x="459.6" y="205.0" width="20.9" height="4.9" fill="#9EDCF4" stroke="#42606e" stroke-width="0.9"/>
<line x1="459.6" y1="207.2" x2="480.5" y2="207.2" stroke="#42606e" stroke-width="0.9"/>
<path d="M468.7,205.5L471.3,208.1M468.7,208.1L471.3,205.5" stroke="#111" stroke-width="0.8"/>
<line x1="492.5" y1="217.2" x2="492.5" y2="219.9" stroke="#5f5f5f" stroke-width="0.85"/>
<line x1="492.5" y1="224.6" x2="492.5" y2="231.4" stroke="#5f5f5f" stroke-width="0.85"/>
<line x1="489.6" y1="217.2" x2="495.4" y2="217.2" stroke="#5f5f5f" stroke-width="0.85"/>
<line x1="489.6" y1="231.4" x2="495.4" y2="231.4" stroke="#5f5f5f" stroke-width="0.85"/>
<rect x="482.2" y="219.9" width="20.6" height="4.7" fill="#70C43C" stroke="#325e22" stroke-width="0.9"/>
<line x1="482.2" y1="222.3" x2="502.8" y2="222.3" stroke="#325e22" stroke-width="0.9"/>
<path d="M491.4,219.5L494.0,222.1M491.4,222.1L494.0,219.5" stroke="#111" stroke-width="0.8"/>
<line x1="515.2" y1="305.8" x2="515.2" y2="307.1" stroke="#5f5f5f" stroke-width="0.85"/>
<line x1="515.2" y1="313.6" x2="515.2" y2="320.8" stroke="#5f5f5f" stroke-width="0.85"/>
<line x1="512.4" y1="305.8" x2="518.1" y2="305.8" stroke="#5f5f5f" stroke-width="0.85"/>
<line x1="512.4" y1="320.8" x2="518.1" y2="320.8" stroke="#5f5f5f" stroke-width="0.85"/>
<rect x="504.8" y="307.1" width="20.9" height="6.5" fill="#FFC700" stroke="#6e5514" stroke-width="0.9"/>
<line x1="504.8" y1="311.5" x2="525.7" y2="311.5" stroke="#6e5514" stroke-width="0.9"/>
<path d="M513.8,309.9L516.4,312.5M513.8,312.5L516.4,309.9" stroke="#111" stroke-width="0.8"/>
<circle cx="492.7" cy="200.5" r="0.95" fill="#222"/>
<circle cx="492.7" cy="203.7" r="0.95" fill="#222"/>
<line x1="434.1" y1="237.6" x2="506.9" y2="274.9" stroke="#1a1a1a" stroke-width="1.1" stroke-dasharray="1.9,1.1"/>
<path d="M511.8,277.4L505.6,277.4L508.2,272.4z" fill="#111"/>
<path d="M29.5,356.3H182.5V503.2H29.5Z" fill="none" stroke="#8c8c8c" stroke-width="1.05"/>
<line x1="29.5" y1="503.20" x2="31.0" y2="503.20" stroke="#9a9a9a" stroke-width="0.8"/>
<text transform="translate(26.5,505.90) scale(0.88,1)" font-size="7.6" fill="#262626" stroke="#262626" stroke-width="0.15" text-anchor="end">0</text>
<line x1="29.5" y1="478.72" x2="31.0" y2="478.72" stroke="#9a9a9a" stroke-width="0.8"/>
<text transform="translate(26.5,481.42) scale(0.88,1)" font-size="7.6" fill="#262626" stroke="#262626" stroke-width="0.15" text-anchor="end">0.1</text>
<line x1="29.5" y1="454.23" x2="31.0" y2="454.23" stroke="#9a9a9a" stroke-width="0.8"/>
<text transform="translate(26.5,456.93) scale(0.88,1)" font-size="7.6" fill="#262626" stroke="#262626" stroke-width="0.15" text-anchor="end">0.2</text>
<line x1="29.5" y1="429.75" x2="31.0" y2="429.75" stroke="#9a9a9a" stroke-width="0.8"/>
<text transform="translate(26.5,432.45) scale(0.88,1)" font-size="7.6" fill="#262626" stroke="#262626" stroke-width="0.15" text-anchor="end">0.3</text>
<line x1="29.5" y1="405.27" x2="31.0" y2="405.27" stroke="#9a9a9a" stroke-width="0.8"/>
<text transform="translate(26.5,407.97) scale(0.88,1)" font-size="7.6" fill="#262626" stroke="#262626" stroke-width="0.15" text-anchor="end">0.4</text>
<line x1="29.5" y1="380.78" x2="31.0" y2="380.78" stroke="#9a9a9a" stroke-width="0.8"/>
<text transform="translate(26.5,383.48) scale(0.88,1)" font-size="7.6" fill="#262626" stroke="#262626" stroke-width="0.15" text-anchor="end">0.5</text>
<line x1="29.5" y1="356.30" x2="31.0" y2="356.30" stroke="#9a9a9a" stroke-width="0.8"/>
<text transform="translate(26.5,359.00) scale(0.88,1)" font-size="7.6" fill="#262626" stroke="#262626" stroke-width="0.15" text-anchor="end">0.6</text>
<text transform="translate(12.8,427.0) rotate(-90)" text-anchor="middle" font-size="10.4" letter-spacing="0.6" fill="#1e1e1e" stroke="#1e1e1e" stroke-width="0.06"><tspan font-style="italic" font-size="10.8">w</tspan>(Na<tspan font-size="7.2" dy="1.6">2</tspan><tspan dy="-1.6">O</tspan>)%</text>
<line x1="61.3" y1="398.6" x2="61.3" y2="400.8" stroke="#5f5f5f" stroke-width="0.85"/>
<line x1="61.3" y1="429.2" x2="61.3" y2="432.0" stroke="#5f5f5f" stroke-width="0.85"/>
<line x1="58.4" y1="398.6" x2="64.2" y2="398.6" stroke="#5f5f5f" stroke-width="0.85"/>
<line x1="58.4" y1="432.0" x2="64.2" y2="432.0" stroke="#5f5f5f" stroke-width="0.85"/>
<rect x="51.2" y="400.8" width="20.2" height="28.4" fill="#FA5F5F" stroke="#6a3434" stroke-width="0.9"/>
<line x1="51.2" y1="407.1" x2="71.4" y2="407.1" stroke="#6a3434" stroke-width="0.9"/>
<path d="M59.9,410.3L62.5,412.9M59.9,412.9L62.5,410.3" stroke="#111" stroke-width="0.8"/>
<line x1="83.4" y1="366.5" x2="83.4" y2="390.4" stroke="#5f5f5f" stroke-width="0.85"/>
<line x1="83.4" y1="431.6" x2="83.4" y2="432.9" stroke="#5f5f5f" stroke-width="0.85"/>
<line x1="80.5" y1="366.5" x2="86.3" y2="366.5" stroke="#5f5f5f" stroke-width="0.85"/>
<line x1="80.5" y1="432.9" x2="86.3" y2="432.9" stroke="#5f5f5f" stroke-width="0.85"/>
<rect x="73.3" y="390.4" width="20.2" height="41.2" fill="#F5EA3C" stroke="#625d24" stroke-width="0.9"/>
<line x1="73.3" y1="405.7" x2="93.5" y2="405.7" stroke="#625d24" stroke-width="0.9"/>
<path d="M81.8,403.8L84.4,406.4M81.8,406.4L84.4,403.8" stroke="#111" stroke-width="0.8"/>
<line x1="105.6" y1="408.0" x2="105.6" y2="414.3" stroke="#5f5f5f" stroke-width="0.85"/>
<line x1="105.6" y1="436.0" x2="105.6" y2="464.4" stroke="#5f5f5f" stroke-width="0.85"/>
<line x1="102.7" y1="408.0" x2="108.5" y2="408.0" stroke="#5f5f5f" stroke-width="0.85"/>
<line x1="102.7" y1="464.4" x2="108.5" y2="464.4" stroke="#5f5f5f" stroke-width="0.85"/>
<rect x="95.5" y="414.3" width="20.2" height="21.7" fill="#9EDCF4" stroke="#42606e" stroke-width="0.9"/>
<line x1="95.5" y1="426.1" x2="115.7" y2="426.1" stroke="#42606e" stroke-width="0.9"/>
<path d="M104.4,427.3L107.0,429.9M104.4,429.9L107.0,427.3" stroke="#111" stroke-width="0.8"/>
<line x1="127.5" y1="376.3" x2="127.5" y2="409.0" stroke="#5f5f5f" stroke-width="0.85"/>
<line x1="127.5" y1="438.0" x2="127.5" y2="466.1" stroke="#5f5f5f" stroke-width="0.85"/>
<line x1="124.6" y1="376.3" x2="130.4" y2="376.3" stroke="#5f5f5f" stroke-width="0.85"/>
<line x1="124.6" y1="466.1" x2="130.4" y2="466.1" stroke="#5f5f5f" stroke-width="0.85"/>
<rect x="117.5" y="409.0" width="20.1" height="29.0" fill="#70C43C" stroke="#325e22" stroke-width="0.9"/>
<line x1="117.5" y1="412.9" x2="137.6" y2="412.9" stroke="#325e22" stroke-width="0.9"/>
<path d="M126.3,419.5L128.9,422.1M126.3,422.1L128.9,419.5" stroke="#111" stroke-width="0.8"/>
<line x1="150.1" y1="468.7" x2="150.1" y2="470.0" stroke="#5f5f5f" stroke-width="0.85"/>
<line x1="150.1" y1="480.4" x2="150.1" y2="483.4" stroke="#5f5f5f" stroke-width="0.85"/>
<line x1="147.2" y1="468.7" x2="153.0" y2="468.7" stroke="#5f5f5f" stroke-width="0.85"/>
<line x1="147.2" y1="483.4" x2="153.0" y2="483.4" stroke="#5f5f5f" stroke-width="0.85"/>
<rect x="139.8" y="470.0" width="20.6" height="10.4" fill="#FFC700" stroke="#6e5514" stroke-width="0.9"/>
<line x1="139.8" y1="475.8" x2="160.4" y2="475.8" stroke="#6e5514" stroke-width="0.9"/>
<path d="M148.9,474.0L151.5,476.6M148.9,476.6L151.5,474.0" stroke="#111" stroke-width="0.8"/>
<line x1="43.1" y1="461.3" x2="123.2" y2="478.4" stroke="#1a1a1a" stroke-width="1.1" stroke-dasharray="1.9,1.1"/>
<path d="M128.6,479.6L122.6,481.2L123.8,475.7z" fill="#111"/>
<path d="M213.4,356.0H366.5V502.8H213.4Z" fill="none" stroke="#8c8c8c" stroke-width="1.05"/>
<line x1="213.4" y1="502.80" x2="214.9" y2="502.80" stroke="#9a9a9a" stroke-width="0.8"/>
<text transform="translate(210.4,505.50) scale(0.88,1)" font-size="7.6" fill="#262626" stroke="#262626" stroke-width="0.15" text-anchor="end">8</text>
<line x1="213.4" y1="484.45" x2="214.9" y2="484.45" stroke="#9a9a9a" stroke-width="0.8"/>
<text transform="translate(210.4,487.15) scale(0.88,1)" font-size="7.6" fill="#262626" stroke="#262626" stroke-width="0.15" text-anchor="end">8.5</text>
<line x1="213.4" y1="466.10" x2="214.9" y2="466.10" stroke="#9a9a9a" stroke-width="0.8"/>
<text transform="translate(210.4,468.80) scale(0.88,1)" font-size="7.6" fill="#262626" stroke="#262626" stroke-width="0.15" text-anchor="end">9</text>
<line x1="213.4" y1="447.75" x2="214.9" y2="447.75" stroke="#9a9a9a" stroke-width="0.8"/>
<text transform="translate(210.4,450.45) scale(0.88,1)" font-size="7.6" fill="#262626" stroke="#262626" stroke-width="0.15" text-anchor="end">9.5</text>
<line x1="213.4" y1="429.40" x2="214.9" y2="429.40" stroke="#9a9a9a" stroke-width="0.8"/>
<text transform="translate(210.4,432.10) scale(0.88,1)" font-size="7.6" fill="#262626" stroke="#262626" stroke-width="0.15" text-anchor="end">10</text>
<line x1="213.4" y1="411.05" x2="214.9" y2="411.05" stroke="#9a9a9a" stroke-width="0.8"/>
<text transform="translate(210.4,413.75) scale(0.88,1)" font-size="7.6" fill="#262626" stroke="#262626" stroke-width="0.15" text-anchor="end">10.5</text>
<line x1="213.4" y1="392.70" x2="214.9" y2="392.70" stroke="#9a9a9a" stroke-width="0.8"/>
<text transform="translate(210.4,395.40) scale(0.88,1)" font-size="7.6" fill="#262626" stroke="#262626" stroke-width="0.15" text-anchor="end">11</text>
<line x1="213.4" y1="374.35" x2="214.9" y2="374.35" stroke="#9a9a9a" stroke-width="0.8"/>
<text transform="translate(210.4,377.05) scale(0.88,1)" font-size="7.6" fill="#262626" stroke="#262626" stroke-width="0.15" text-anchor="end">11.5</text>
<line x1="213.4" y1="356.00" x2="214.9" y2="356.00" stroke="#9a9a9a" stroke-width="0.8"/>
<text transform="translate(210.4,358.70) scale(0.88,1)" font-size="7.6" fill="#262626" stroke="#262626" stroke-width="0.15" text-anchor="end">12</text>
<text transform="translate(195.0,428.4) rotate(-90)" text-anchor="middle" font-size="10.4" letter-spacing="0.6" fill="#1e1e1e" stroke="#1e1e1e" stroke-width="0.06"><tspan font-style="italic" font-size="10.8">w</tspan>(K<tspan font-size="7.2" dy="1.6">2</tspan><tspan dy="-1.6">O</tspan>)%</text>
<line x1="244.3" y1="381.4" x2="244.3" y2="390.5" stroke="#5f5f5f" stroke-width="0.85"/>
<line x1="244.3" y1="399.0" x2="244.3" y2="399.3" stroke="#5f5f5f" stroke-width="0.85"/>
<line x1="241.4" y1="381.4" x2="247.2" y2="381.4" stroke="#5f5f5f" stroke-width="0.85"/>
<line x1="241.4" y1="399.3" x2="247.2" y2="399.3" stroke="#5f5f5f" stroke-width="0.85"/>
<rect x="234.5" y="390.5" width="19.6" height="8.5" fill="#FA5F5F" stroke="#6a3434" stroke-width="0.9"/>
<line x1="234.5" y1="390.8" x2="254.1" y2="390.8" stroke="#6a3434" stroke-width="0.9"/>
<path d="M243.0,390.7L245.6,393.3M243.0,393.3L245.6,390.7" stroke="#111" stroke-width="0.8"/>
<line x1="266.0" y1="387.6" x2="266.0" y2="390.3" stroke="#5f5f5f" stroke-width="0.85"/>
<line x1="266.0" y1="405.4" x2="266.0" y2="410.2" stroke="#5f5f5f" stroke-width="0.85"/>
<line x1="263.1" y1="387.6" x2="268.9" y2="387.6" stroke="#5f5f5f" stroke-width="0.85"/>
<line x1="263.1" y1="410.2" x2="268.9" y2="410.2" stroke="#5f5f5f" stroke-width="0.85"/>
<rect x="256.3" y="390.3" width="19.3" height="15.1" fill="#F5EA3C" stroke="#625d24" stroke-width="0.9"/>
<line x1="256.3" y1="397.4" x2="275.6" y2="397.4" stroke="#625d24" stroke-width="0.9"/>
<path d="M264.9,397.2L267.5,399.8M264.9,399.8L267.5,397.2" stroke="#111" stroke-width="0.8"/>
<line x1="287.8" y1="405.4" x2="287.8" y2="406.8" stroke="#5f5f5f" stroke-width="0.85"/>
<line x1="287.8" y1="416.5" x2="287.8" y2="426.0" stroke="#5f5f5f" stroke-width="0.85"/>
<line x1="284.9" y1="405.4" x2="290.7" y2="405.4" stroke="#5f5f5f" stroke-width="0.85"/>
<line x1="284.9" y1="426.0" x2="290.7" y2="426.0" stroke="#5f5f5f" stroke-width="0.85"/>
<rect x="278.1" y="406.8" width="19.4" height="9.7" fill="#9EDCF4" stroke="#42606e" stroke-width="0.9"/>
<line x1="278.1" y1="413.3" x2="297.5" y2="413.3" stroke="#42606e" stroke-width="0.9"/>
<path d="M286.2,410.0L288.8,412.6M286.2,412.6L288.8,410.0" stroke="#111" stroke-width="0.8"/>
<line x1="309.3" y1="398.0" x2="309.3" y2="404.1" stroke="#5f5f5f" stroke-width="0.85"/>
<line x1="309.3" y1="423.2" x2="309.3" y2="449.3" stroke="#5f5f5f" stroke-width="0.85"/>
<line x1="306.4" y1="398.0" x2="312.2" y2="398.0" stroke="#5f5f5f" stroke-width="0.85"/>
<line x1="306.4" y1="449.3" x2="312.2" y2="449.3" stroke="#5f5f5f" stroke-width="0.85"/>
<rect x="299.2" y="404.1" width="20.2" height="19.1" fill="#70C43C" stroke="#325e22" stroke-width="0.9"/>
<line x1="299.2" y1="407.4" x2="319.4" y2="407.4" stroke="#325e22" stroke-width="0.9"/>
<path d="M308.1,416.9L310.7,419.5M308.1,419.5L310.7,416.9" stroke="#111" stroke-width="0.8"/>
<line x1="331.0" y1="405.5" x2="331.0" y2="411.2" stroke="#5f5f5f" stroke-width="0.85"/>
<line x1="331.0" y1="419.6" x2="331.0" y2="420.4" stroke="#5f5f5f" stroke-width="0.85"/>
<line x1="328.1" y1="405.5" x2="333.9" y2="405.5" stroke="#5f5f5f" stroke-width="0.85"/>
<line x1="328.1" y1="420.4" x2="333.9" y2="420.4" stroke="#5f5f5f" stroke-width="0.85"/>
<rect x="321.2" y="411.2" width="19.6" height="8.4" fill="#FFC700" stroke="#6e5514" stroke-width="0.9"/>
<line x1="321.2" y1="415.3" x2="340.8" y2="415.3" stroke="#6e5514" stroke-width="0.9"/>
<path d="M329.5,413.2L332.1,415.8M329.5,415.8L332.1,413.2" stroke="#111" stroke-width="0.8"/>
<circle cx="287.5" cy="384.4" r="0.95" fill="#222"/>
<circle cx="309.4" cy="454.8" r="0.95" fill="#222"/>
<circle cx="309.4" cy="459.5" r="0.95" fill="#222"/>
<circle cx="309.4" cy="482.3" r="0.95" fill="#222"/>
<line x1="246.5" y1="373.1" x2="326.4" y2="390.1" stroke="#1a1a1a" stroke-width="1.1" stroke-dasharray="1.9,1.1"/>
<path d="M331.8,391.2L325.8,392.8L327.0,387.3z" fill="#111"/>
<path d="M392.6,356.5H545.8V503.2H392.6Z" fill="none" stroke="#8c8c8c" stroke-width="1.05"/>
<line x1="392.6" y1="503.20" x2="394.1" y2="503.20" stroke="#9a9a9a" stroke-width="0.8"/>
<text transform="translate(389.6,505.90) scale(0.88,1)" font-size="7.6" fill="#262626" stroke="#262626" stroke-width="0.15" text-anchor="end">0</text>
<line x1="392.6" y1="478.75" x2="394.1" y2="478.75" stroke="#9a9a9a" stroke-width="0.8"/>
<text transform="translate(389.6,481.45) scale(0.88,1)" font-size="7.6" fill="#262626" stroke="#262626" stroke-width="0.15" text-anchor="end">0.1</text>
<line x1="392.6" y1="454.30" x2="394.1" y2="454.30" stroke="#9a9a9a" stroke-width="0.8"/>
<text transform="translate(389.6,457.00) scale(0.88,1)" font-size="7.6" fill="#262626" stroke="#262626" stroke-width="0.15" text-anchor="end">0.2</text>
<line x1="392.6" y1="429.85" x2="394.1" y2="429.85" stroke="#9a9a9a" stroke-width="0.8"/>
<text transform="translate(389.6,432.55) scale(0.88,1)" font-size="7.6" fill="#262626" stroke="#262626" stroke-width="0.15" text-anchor="end">0.3</text>
<line x1="392.6" y1="405.40" x2="394.1" y2="405.40" stroke="#9a9a9a" stroke-width="0.8"/>
<text transform="translate(389.6,408.10) scale(0.88,1)" font-size="7.6" fill="#262626" stroke="#262626" stroke-width="0.15" text-anchor="end">0.4</text>
<line x1="392.6" y1="380.95" x2="394.1" y2="380.95" stroke="#9a9a9a" stroke-width="0.8"/>
<text transform="translate(389.6,383.65) scale(0.88,1)" font-size="7.6" fill="#262626" stroke="#262626" stroke-width="0.15" text-anchor="end">0.5</text>
<line x1="392.6" y1="356.50" x2="394.1" y2="356.50" stroke="#9a9a9a" stroke-width="0.8"/>
<text transform="translate(389.6,359.20) scale(0.88,1)" font-size="7.6" fill="#262626" stroke="#262626" stroke-width="0.15" text-anchor="end">0.6</text>
<text transform="translate(378.8,425.5) rotate(-90)" text-anchor="middle" font-size="10.4" letter-spacing="0.6" fill="#1e1e1e" stroke="#1e1e1e" stroke-width="0.06"><tspan font-style="italic" font-size="10.8">w</tspan>(MgO)%</text>
<line x1="424.8" y1="377.3" x2="424.8" y2="380.4" stroke="#5f5f5f" stroke-width="0.85"/>
<line x1="424.8" y1="414.6" x2="424.8" y2="423.2" stroke="#5f5f5f" stroke-width="0.85"/>
<line x1="421.9" y1="377.3" x2="427.6" y2="377.3" stroke="#5f5f5f" stroke-width="0.85"/>
<line x1="421.9" y1="423.2" x2="427.6" y2="423.2" stroke="#5f5f5f" stroke-width="0.85"/>
<rect x="414.7" y="380.4" width="20.1" height="34.2" fill="#FA5F5F" stroke="#6a3434" stroke-width="0.9"/>
<line x1="414.7" y1="402.4" x2="434.8" y2="402.4" stroke="#6a3434" stroke-width="0.9"/>
<path d="M423.3,397.6L425.9,400.2M423.3,400.2L425.9,397.6" stroke="#111" stroke-width="0.8"/>
<line x1="446.8" y1="382.0" x2="446.8" y2="406.6" stroke="#5f5f5f" stroke-width="0.85"/>
<line x1="446.8" y1="427.8" x2="446.8" y2="432.2" stroke="#5f5f5f" stroke-width="0.85"/>
<line x1="443.9" y1="382.0" x2="449.7" y2="382.0" stroke="#5f5f5f" stroke-width="0.85"/>
<line x1="443.9" y1="432.2" x2="449.7" y2="432.2" stroke="#5f5f5f" stroke-width="0.85"/>
<rect x="436.8" y="406.6" width="20.0" height="21.2" fill="#F5EA3C" stroke="#625d24" stroke-width="0.9"/>
<line x1="436.8" y1="409.1" x2="456.8" y2="409.1" stroke="#625d24" stroke-width="0.9"/>
<path d="M445.3,410.5L447.9,413.1M445.3,413.1L447.9,410.5" stroke="#111" stroke-width="0.8"/>
<line x1="469.4" y1="396.5" x2="469.4" y2="402.4" stroke="#5f5f5f" stroke-width="0.85"/>
<line x1="469.4" y1="418.5" x2="469.4" y2="425.4" stroke="#5f5f5f" stroke-width="0.85"/>
<line x1="466.5" y1="396.5" x2="472.2" y2="396.5" stroke="#5f5f5f" stroke-width="0.85"/>
<line x1="466.5" y1="425.4" x2="472.2" y2="425.4" stroke="#5f5f5f" stroke-width="0.85"/>
<rect x="459.3" y="402.4" width="20.1" height="16.1" fill="#9EDCF4" stroke="#42606e" stroke-width="0.9"/>
<line x1="459.3" y1="413.3" x2="479.4" y2="413.3" stroke="#42606e" stroke-width="0.9"/>
<path d="M468.0,410.2L470.6,412.8M468.0,412.8L470.6,410.2" stroke="#111" stroke-width="0.8"/>
<line x1="491.4" y1="495.9" x2="491.4" y2="499.4" stroke="#5f5f5f" stroke-width="0.85"/>
<line x1="491.4" y1="503.1" x2="491.4" y2="503.2" stroke="#5f5f5f" stroke-width="0.85"/>
<line x1="488.5" y1="495.9" x2="494.2" y2="495.9" stroke="#5f5f5f" stroke-width="0.85"/>
<line x1="488.5" y1="503.2" x2="494.2" y2="503.2" stroke="#5f5f5f" stroke-width="0.85"/>
<rect x="481.3" y="499.4" width="20.1" height="3.7" fill="#70C43C" stroke="#325e22" stroke-width="0.9"/>
<line x1="481.3" y1="501.2" x2="501.4" y2="501.2" stroke="#325e22" stroke-width="0.9"/>
<path d="M489.8,499.6L492.4,502.2M489.8,502.2L492.4,499.6" stroke="#111" stroke-width="0.8"/>
<line x1="513.6" y1="496.1" x2="513.6" y2="498.1" stroke="#5f5f5f" stroke-width="0.85"/>
<line x1="513.6" y1="503.1" x2="513.6" y2="503.2" stroke="#5f5f5f" stroke-width="0.85"/>
<line x1="510.7" y1="496.1" x2="516.5" y2="496.1" stroke="#5f5f5f" stroke-width="0.85"/>
<line x1="510.7" y1="503.2" x2="516.5" y2="503.2" stroke="#5f5f5f" stroke-width="0.85"/>
<rect x="503.6" y="498.1" width="20.0" height="5.0" fill="#FFC700" stroke="#6e5514" stroke-width="0.9"/>
<line x1="503.6" y1="500.3" x2="523.6" y2="500.3" stroke="#6e5514" stroke-width="0.9"/>
<path d="M512.1,499.2L514.7,501.8M512.1,501.8L514.7,499.2" stroke="#111" stroke-width="0.8"/>
<line x1="432.2" y1="440.3" x2="508.2" y2="468.5" stroke="#1a1a1a" stroke-width="1.1" stroke-dasharray="1.9,1.1"/>
<path d="M513.4,470.4L507.3,471.1L509.2,465.9z" fill="#111"/>
</svg></body></html>
